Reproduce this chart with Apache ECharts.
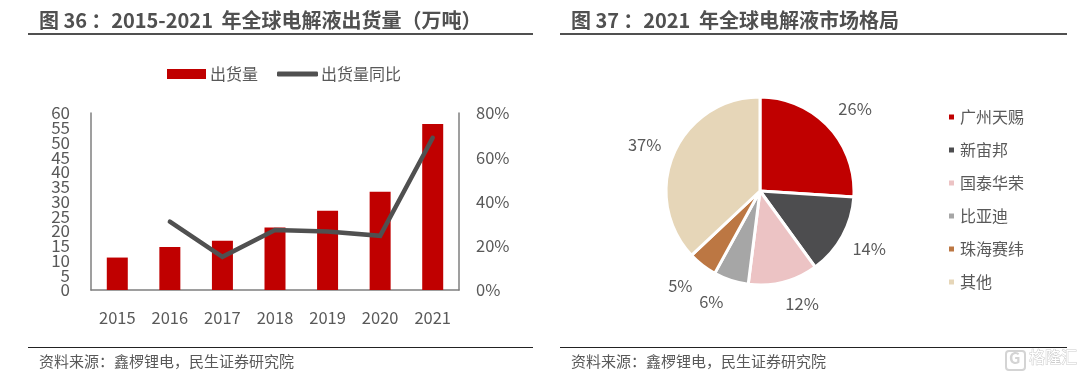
<!DOCTYPE html>
<html><head><meta charset="utf-8">
<style>html,body{margin:0;padding:0;background:#fff}#c{width:1078px;height:375px}</style>
<script src="https://cdn.jsdelivr.net/npm/echarts@6/dist/echarts.min.js"></script>
</head><body><div id="c"></div>
<script>
const years=['2015','2016','2017','2018','2019','2020','2021'];
const shipments=[11,14.6,16.7,21.2,26.9,33.3,56.3];
const yoy=[null,30.9,15,27.1,26.4,24.5,68.8];
const firms=['广州天赐','新宙邦','国泰华荣','比亚迪','珠海赛纬','其他'];
const shares=[26,14,12,6,5,37];
const firmColors=['#C00000','#4D4D4F','#ECC3C4','#A6A6A6','#BC7743','#E6D6B8'];
const labelNudge=[[-3,-12],[-4,9],[-7,14],[2,14],[2,14],[2,-6]];
const FONT='"Noto Sans CJK SC","Noto Sans",sans-serif';
const TXT='#595959';
const chart=echarts.init(document.getElementById('c'),null,{renderer:'canvas'});
function titleItem(text,left){return {text,left,top:10,padding:0,textStyle:{fontFamily:FONT,fontSize:20,fontWeight:'bold',color:'#505050'}};}
function foot(text,left){return {text,left,top:354,padding:0,textStyle:{fontFamily:FONT,fontSize:15,fontWeight:'normal',color:TXT}};}
const leftLabel={margin:21,fontFamily:FONT,fontSize:17,lineHeight:12,color:TXT,hideOverlap:false};
chart.setOption({
 animation:false,
 textStyle:{fontFamily:FONT},
 title:[titleItem('图 36\u2009：2015-2021\u2009 年全球电解液出货量（万吨）',39),titleItem('图 37\u2009：2021\u2009 年全球电解液市场格局',571),
        foot('资料来源：鑫椤锂电，民生证券研究院',39),foot('资料来源：鑫椤锂电，民生证券研究院',571)],
 graphic:[
  {type:'line',shape:{x1:28,y1:34,x2:533,y2:34},style:{stroke:'#505050',lineWidth:2}},
  {type:'line',shape:{x1:560,y1:34,x2:1067,y2:34},style:{stroke:'#505050',lineWidth:2}},
  {type:'line',shape:{x1:28,y1:347.5,x2:533,y2:347.5},style:{stroke:'#222',lineWidth:1}},
  {type:'line',shape:{x1:560,y1:347.5,x2:1067,y2:347.5},style:{stroke:'#222',lineWidth:1}},
  {type:'rect',shape:{x:1006,y:351,width:19,height:19,r:3},style:{fill:'#fff',stroke:'#d4d4d4',lineWidth:2}},
  {type:'text',x:1009,y:350,style:{text:'G',fontFamily:FONT,fontSize:16,fontWeight:'bold',fill:'#d4d4d4'}},
  {type:'text',x:1029,y:349,style:{text:'格隆汇',fontFamily:FONT,fontSize:16,fill:'#fff',stroke:'#cccccc',lineWidth:1}}
 ],
 legend:[
  {data:[{name:'出货量',icon:'rect'}],left:167,top:66,itemWidth:39,itemHeight:10,padding:0,
   textStyle:{fontFamily:FONT,fontSize:16,color:TXT,padding:[0,0,0,-1]}},
  {data:[{name:'出货量同比',icon:'roundRect'}],left:277,top:66,itemWidth:41,itemHeight:5,padding:0,
   textStyle:{fontFamily:FONT,fontSize:16,color:TXT,padding:[0,0,0,-2]}},
  {data:firms,orient:'vertical',left:947,top:109,icon:'rect',itemWidth:7,itemHeight:7,itemGap:17,padding:0,
   textStyle:{fontFamily:FONT,fontSize:16,color:TXT,lineHeight:16}}
 ],
 grid:{left:91,right:619,top:113,bottom:85,containLabel:false},
 xAxis:{type:'category',data:years,axisTick:{show:false},
  axisLine:{lineStyle:{color:'#7f7f7f',width:1.5}},
  axisLabel:{margin:19,fontFamily:FONT,fontSize:16.5,color:TXT}},
 yAxis:[
  {type:'value',position:'left',min:0,max:60,interval:5,splitLine:{show:false},axisTick:{show:false},
   axisLine:{show:true,onZero:false,lineStyle:{color:'#7f7f7f',width:1.5}},
   axisLabel:Object.assign({showMinLabel:false,showMaxLabel:false},leftLabel)},
  {type:'value',position:'right',min:0,max:80,interval:20,splitLine:{show:false},axisTick:{show:false},
   axisLine:{show:true,lineStyle:{color:'#7f7f7f',width:1.5}},
   axisLabel:{margin:17,fontFamily:FONT,fontSize:16.5,color:TXT,formatter:'{value}%'}},
  {type:'value',position:'left',min:0,max:60,interval:60,splitLine:{show:false},axisTick:{show:false},
   axisLine:{show:false,onZero:false},
   axisLabel:leftLabel}
 ],
 series:[
  {name:'出货量',type:'bar',data:shipments,barWidth:21,itemStyle:{color:'#C00000'}},
  {name:'出货量同比',type:'line',yAxisIndex:1,data:yoy,symbol:'none',connectNulls:false,
   lineStyle:{color:'#505050',width:4.5,cap:'round',join:'miter'},itemStyle:{color:'#505050'}},
  {name:'份额',type:'pie',center:[760,191],radius:[0,94],startAngle:90,clockwise:true,
   data:firms.map((n,i)=>({name:n,value:shares[i],itemStyle:{color:firmColors[i]}})),
   itemStyle:{borderColor:'#fff',borderWidth:3},
   label:{show:true,formatter:'{c}%',fontFamily:FONT,fontSize:16.5,color:TXT,position:'outside'},
   labelLine:{show:false,length:8,length2:2},avoidLabelOverlap:false,emphasis:{disabled:true},
   labelLayout:p=>({dx:labelNudge[p.dataIndex][0],dy:labelNudge[p.dataIndex][1]})}
 ]
});
</script></body></html>
